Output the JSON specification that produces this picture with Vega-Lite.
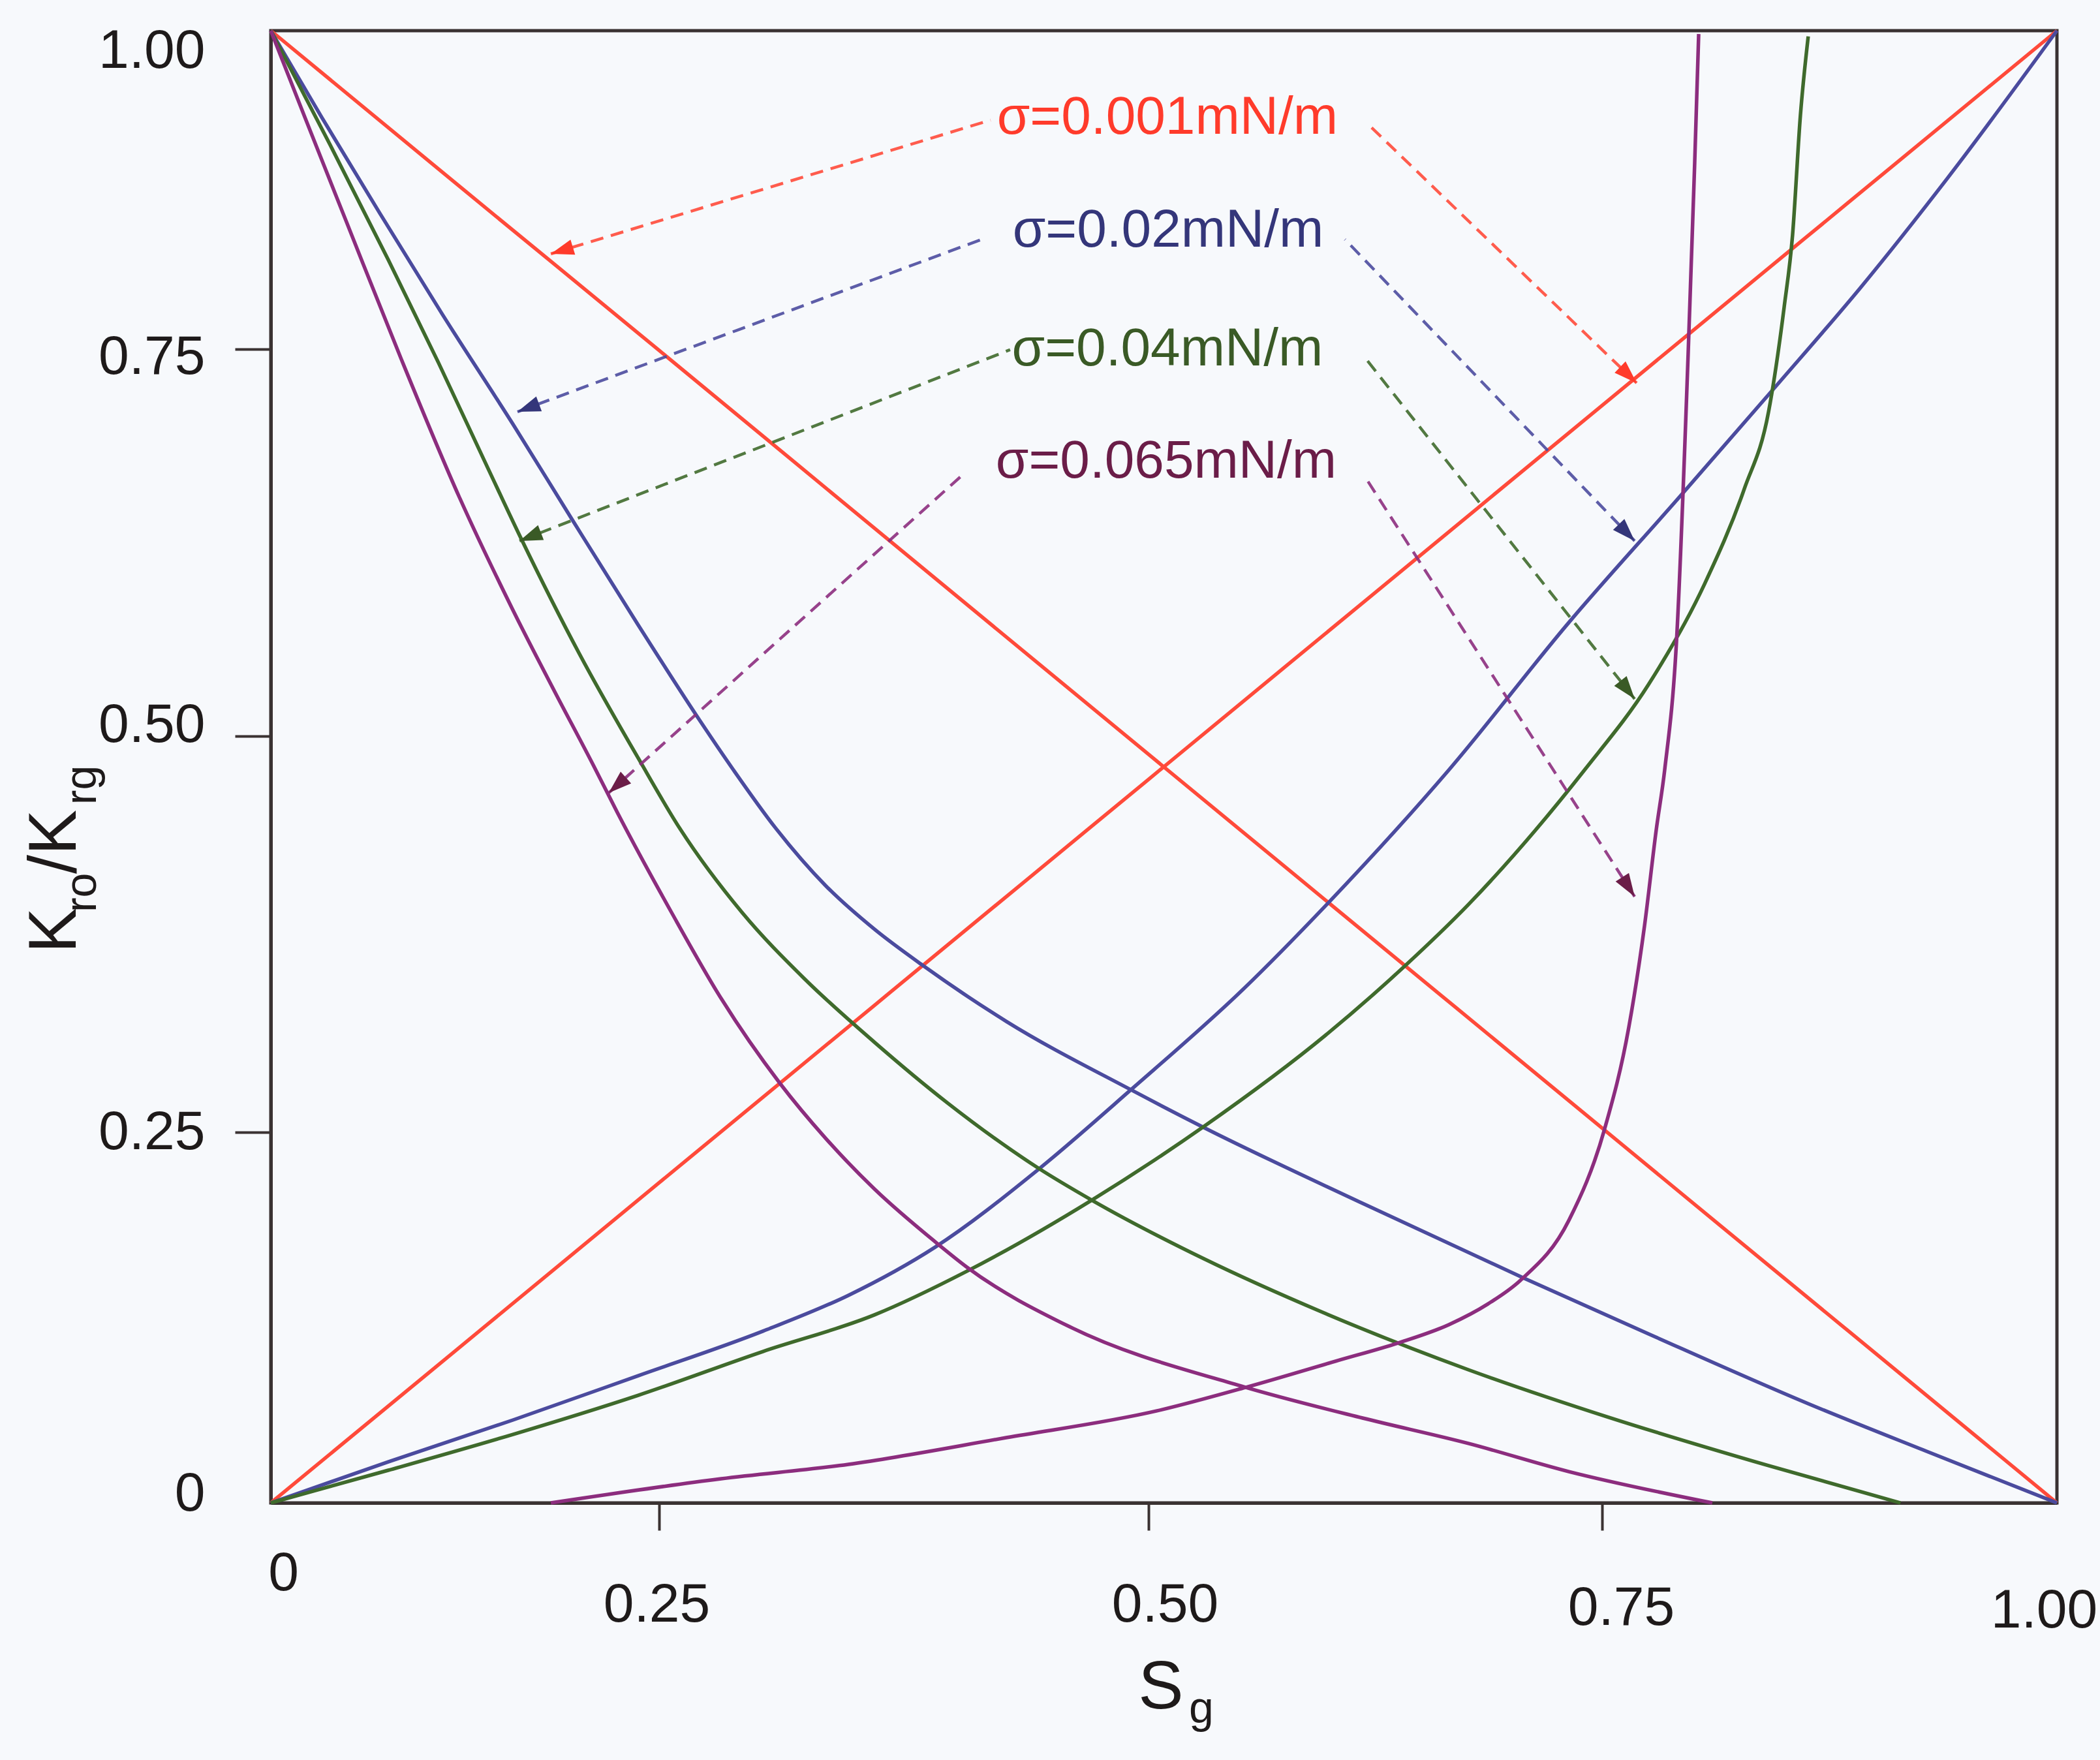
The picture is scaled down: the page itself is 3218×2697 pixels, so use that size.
{
  "$schema": "https://vega.github.io/schema/vega-lite/v6.json",
  "width": 2737,
  "height": 2256,
  "autosize": {"type": "none"},
  "padding": {"left": 415, "top": 47, "right": 66, "bottom": 394},
  "background": "#f7f9fc",
  "config": {"view": {"stroke": "#3a3232", "strokeWidth": 5}, "font": "Liberation Sans"},
  "datasets": {
    "curves": [
      {"s":"0.001","k":"Kro","x":0,"y":1},{"s":"0.001","k":"Kro","x":0.1185,"y":0.8808},{"s":"0.001","k":"Kro","x":0.25,"y":0.7492},{"s":"0.001","k":"Kro","x":0.36,"y":0.6343},{"s":"0.001","k":"Kro","x":0.5,"y":0.4885},{"s":"0.001","k":"Kro","x":0.6223,"y":0.3731},{"s":"0.001","k":"Kro","x":0.75,"y":0.2526},{"s":"0.001","k":"Kro","x":0.8852,"y":0.1161},{"s":"0.001","k":"Kro","x":1,"y":0},
      {"s":"0.001","k":"Krg","x":0,"y":0},{"s":"0.001","k":"Krg","x":0.1185,"y":0.1023},{"s":"0.001","k":"Krg","x":0.25,"y":0.2159},{"s":"0.001","k":"Krg","x":0.36,"y":0.3301},{"s":"0.001","k":"Krg","x":0.5,"y":0.4727},{"s":"0.001","k":"Krg","x":0.6223,"y":0.5902},{"s":"0.001","k":"Krg","x":0.75,"y":0.7136},{"s":"0.001","k":"Krg","x":0.8852,"y":0.8649},{"s":"0.001","k":"Krg","x":1,"y":1},
      {"s":"0.02","k":"Kro","x":0,"y":1},{"s":"0.02","k":"Kro","x":0.0328,"y":0.9319},{"s":"0.02","k":"Kro","x":0.0702,"y":0.8566},{"s":"0.02","k":"Kro","x":0.1105,"y":0.7772},{"s":"0.02","k":"Kro","x":0.1559,"y":0.7015},{"s":"0.02","k":"Kro","x":0.1937,"y":0.6404},{"s":"0.02","k":"Kro","x":0.2366,"y":0.5717},{"s":"0.02","k":"Kro","x":0.271,"y":0.5097},{"s":"0.02","k":"Kro","x":0.288,"y":0.4786},{"s":"0.02","k":"Kro","x":0.3093,"y":0.4423},{"s":"0.02","k":"Kro","x":0.335,"y":0.4057},{"s":"0.02","k":"Kro","x":0.36,"y":0.3781},{"s":"0.02","k":"Kro","x":0.385,"y":0.355},{"s":"0.02","k":"Kro","x":0.4273,"y":0.32},{"s":"0.02","k":"Kro","x":0.491,"y":0.2768},{"s":"0.02","k":"Kro","x":0.5306,"y":0.2529},{"s":"0.02","k":"Kro","x":0.618,"y":0.202},{"s":"0.02","k":"Kro","x":0.7072,"y":0.1514},{"s":"0.02","k":"Kro","x":0.7755,"y":0.114},{"s":"0.02","k":"Kro","x":0.8633,"y":0.0669},{"s":"0.02","k":"Kro","x":0.9293,"y":0.0343},{"s":"0.02","k":"Kro","x":1,"y":0},
      {"s":"0.02","k":"Krg","x":0,"y":0},{"s":"0.02","k":"Krg","x":0.0756,"y":0.0277},{"s":"0.02","k":"Krg","x":0.1559,"y":0.0559},{"s":"0.02","k":"Krg","x":0.2366,"y":0.0858},{"s":"0.02","k":"Krg","x":0.303,"y":0.1158},{"s":"0.02","k":"Krg","x":0.3467,"y":0.14},{"s":"0.02","k":"Krg","x":0.391,"y":0.1725},{"s":"0.02","k":"Krg","x":0.4437,"y":0.2249},{"s":"0.02","k":"Krg","x":0.491,"y":0.2768},{"s":"0.02","k":"Krg","x":0.5525,"y":0.3406},{"s":"0.02","k":"Krg","x":0.5982,"y":0.3937},{"s":"0.02","k":"Krg","x":0.6655,"y":0.4786},{"s":"0.02","k":"Krg","x":0.7317,"y":0.5734},{"s":"0.02","k":"Krg","x":0.793,"y":0.6551},{"s":"0.02","k":"Krg","x":0.8458,"y":0.7264},{"s":"0.02","k":"Krg","x":0.892,"y":0.7982},{"s":"0.02","k":"Krg","x":0.9401,"y":0.8847},{"s":"0.02","k":"Krg","x":1,"y":1},
      {"s":"0.04","k":"Kro","x":0,"y":1},{"s":"0.04","k":"Kro","x":0.0382,"y":0.9103},{"s":"0.04","k":"Kro","x":0.0756,"y":0.8202},{"s":"0.04","k":"Kro","x":0.108,"y":0.7411},{"s":"0.04","k":"Kro","x":0.1399,"y":0.6728},{"s":"0.04","k":"Kro","x":0.1613,"y":0.6273},{"s":"0.04","k":"Kro","x":0.1987,"y":0.5531},{"s":"0.04","k":"Kro","x":0.2366,"y":0.486},{"s":"0.04","k":"Kro","x":0.2607,"y":0.4415},{"s":"0.04","k":"Kro","x":0.2923,"y":0.3888},{"s":"0.04","k":"Kro","x":0.3243,"y":0.3468},{"s":"0.04","k":"Kro","x":0.36,"y":0.3068},{"s":"0.04","k":"Kro","x":0.3973,"y":0.2685},{"s":"0.04","k":"Kro","x":0.4437,"y":0.2258},{"s":"0.04","k":"Kro","x":0.471,"y":0.2042},{"s":"0.04","k":"Kro","x":0.5306,"y":0.1646},{"s":"0.04","k":"Kro","x":0.596,"y":0.1285},{"s":"0.04","k":"Kro","x":0.6763,"y":0.0898},{"s":"0.04","k":"Kro","x":0.7536,"y":0.0577},{"s":"0.04","k":"Kro","x":0.8415,"y":0.0251},{"s":"0.04","k":"Kro","x":0.914,"y":0},
      {"s":"0.04","k":"Krg","x":0,"y":0},{"s":"0.04","k":"Krg","x":0.0756,"y":0.022},{"s":"0.04","k":"Krg","x":0.1559,"y":0.0462},{"s":"0.04","k":"Krg","x":0.2366,"y":0.0726},{"s":"0.04","k":"Krg","x":0.303,"y":0.1021},{"s":"0.04","k":"Krg","x":0.36,"y":0.1268},{"s":"0.04","k":"Krg","x":0.4073,"y":0.1563},{"s":"0.04","k":"Krg","x":0.471,"y":0.2042},{"s":"0.04","k":"Krg","x":0.5306,"y":0.2537},{"s":"0.04","k":"Krg","x":0.5982,"y":0.3118},{"s":"0.04","k":"Krg","x":0.6406,"y":0.3542},{"s":"0.04","k":"Krg","x":0.6763,"y":0.3937},{"s":"0.04","k":"Krg","x":0.7403,"y":0.4786},{"s":"0.04","k":"Krg","x":0.7755,"y":0.5333},{"s":"0.04","k":"Krg","x":0.8063,"y":0.5982},{"s":"0.04","k":"Krg","x":0.8282,"y":0.6598},{"s":"0.04","k":"Krg","x":0.8415,"y":0.7095},{"s":"0.04","k":"Krg","x":0.8501,"y":0.7833},{"s":"0.04","k":"Krg","x":0.8547,"y":0.8397},{"s":"0.04","k":"Krg","x":0.859,"y":0.9334},{"s":"0.04","k":"Krg","x":0.8633,"y":0.9955},
      {"s":"0.065","k":"Kro","x":0,"y":1},{"s":"0.065","k":"Kro","x":0.0223,"y":0.9308},{"s":"0.065","k":"Kro","x":0.0487,"y":0.8499},{"s":"0.065","k":"Kro","x":0.0836,"y":0.7445},{"s":"0.065","k":"Kro","x":0.1214,"y":0.6543},{"s":"0.065","k":"Kro","x":0.1559,"y":0.5814},{"s":"0.065","k":"Kro","x":0.1828,"y":0.5287},{"s":"0.065","k":"Kro","x":0.2071,"y":0.4827},{"s":"0.065","k":"Kro","x":0.2231,"y":0.4518},{"s":"0.065","k":"Kro","x":0.2563,"y":0.3888},{"s":"0.065","k":"Kro","x":0.2817,"y":0.3344},{"s":"0.065","k":"Kro","x":0.3117,"y":0.2809},{"s":"0.065","k":"Kro","x":0.335,"y":0.246},{"s":"0.065","k":"Kro","x":0.36,"y":0.2117},{"s":"0.065","k":"Kro","x":0.391,"y":0.1761},{"s":"0.065","k":"Kro","x":0.4073,"y":0.1589},{"s":"0.065","k":"Kro","x":0.4597,"y":0.1188},{"s":"0.065","k":"Kro","x":0.5525,"y":0.0783},{"s":"0.065","k":"Kro","x":0.618,"y":0.0572},{"s":"0.065","k":"Kro","x":0.6763,"y":0.0401},{"s":"0.065","k":"Kro","x":0.7317,"y":0.0211},{"s":"0.065","k":"Kro","x":0.8106,"y":0},
      {"s":"0.065","k":"Krg","x":0.1803,"y":0},{"s":"0.065","k":"Krg","x":0.2817,"y":0.0163},{"s":"0.065","k":"Krg","x":0.3467,"y":0.026},{"s":"0.065","k":"Krg","x":0.4273,"y":0.044},{"s":"0.065","k":"Krg","x":0.5047,"y":0.0621},{"s":"0.065","k":"Krg","x":0.5547,"y":0.0783},{"s":"0.065","k":"Krg","x":0.6043,"y":0.096},{"s":"0.065","k":"Krg","x":0.6374,"y":0.1078},{"s":"0.065","k":"Krg","x":0.6655,"y":0.1202},{"s":"0.065","k":"Krg","x":0.6871,"y":0.1342},{"s":"0.065","k":"Krg","x":0.705,"y":0.1501},{"s":"0.065","k":"Krg","x":0.7317,"y":0.1906},{"s":"0.065","k":"Krg","x":0.7514,"y":0.2521},{"s":"0.065","k":"Krg","x":0.7647,"y":0.3163},{"s":"0.065","k":"Krg","x":0.7733,"y":0.3801},{"s":"0.065","k":"Krg","x":0.7798,"y":0.4411},{"s":"0.065","k":"Krg","x":0.7844,"y":0.4786},{"s":"0.065","k":"Krg","x":0.7909,"y":0.5611},{"s":"0.065","k":"Krg","x":0.7973,"y":0.7466},{"s":"0.065","k":"Krg","x":0.8009,"y":0.896},{"s":"0.065","k":"Krg","x":0.8031,"y":0.9974}
    ],
    "arrows": [
      {"s":"0.001","side":"L","xs":0.4193,"ys":0.9298,"x":0.1803,"y":0.8248},
      {"s":"0.001","side":"R","xs":0.6201,"ys":0.9278,"x":0.769,"y":0.7281},
      {"s":"0.02","side":"L","xs":0.4173,"ys":0.8376,"x":0.1588,"y":0.7095},
      {"s":"0.02","side":"R","xs":0.6083,"ys":0.8361,"x":0.7679,"y":0.6261},
      {"s":"0.04","side":"L","xs":0.4293,"ys":0.7496,"x":0.1601,"y":0.6261},
      {"s":"0.04","side":"R","xs":0.6201,"ys":0.7433,"x":0.7679,"y":0.524},
      {"s":"0.065","side":"L","xs":0.4053,"ys":0.6691,"x":0.2176,"y":0.4642},
      {"s":"0.065","side":"R","xs":0.6201,"ys":0.6661,"x":0.7679,"y":0.3987}
    ],
    "labels": [
      {"s":"0.001","t":"σ=0.001mN/m","x":0.5104,"y":0.9319},
      {"s":"0.02","t":"σ=0.02mN/m","x":0.5108,"y":0.8432},
      {"s":"0.04","t":"σ=0.04mN/m","x":0.5104,"y":0.75},
      {"s":"0.065","t":"σ=0.065mN/m","x":0.5097,"y":0.6775}
    ],
    "ytitleBig": [{"t":"K","x":-0.1256,"y":0.3773},{"t":"/K","x":-0.1256,"y":0.4333}],
    "ytitleSub": [{"t":"ro","x":-0.1126,"y":0.4012},{"t":"rg","x":-0.1126,"y":0.4691}],
    "xtitleBig": [{"t":"S","x":0.5068,"y":-0.1386}],
    "xtitleSub": [{"t":"g","x":0.5223,"y":-0.1483}]
  },
  "encoding": {
    "x": {"field": "x", "type": "quantitative",
      "scale": {"domain": [0, 0.25, 0.5, 0.75, 1], "range": [0, 595, 1345, 2040, 2737], "nice": false, "zero": false},
      "axis": {"values": [0, 0.25, 0.5, 0.75, 1], "title": null, "grid": false,
        "labelExpr": "datum.value == 0 ? '0' : format(datum.value, '.2f')",
        "labelFont": "Liberation Sans", "labelFontSize": 84, "labelColor": "#1e1a1a",
        "labelBaseline": "top", "labelAlign": "center", "labelFlush": false, "labelOverlap": false, "labelBound": false,
        "labelPadding": {"condition": [{"test": "datum.value == 0", "value": 25}, {"test": "datum.value == 0.75", "value": 78}, {"test": "datum.value == 1", "value": 82}], "value": 73},
        "labelOffset": {"condition": [{"test": "datum.value == 0", "value": 19}, {"test": "datum.value == 0.25", "value": -4}, {"test": "datum.value == 0.5", "value": 25}, {"test": "datum.value == 0.75", "value": 29}, {"test": "datum.value == 1", "value": -20}], "value": 0},
        "tickSize": 42, "tickWidth": 4, "tickColor": "#3a3232",
        "tickOpacity": {"condition": {"test": "datum.value == 0 || datum.value == 1", "value": 0}, "value": 1},
        "domainColor": "#3a3232", "domainWidth": 5}},
    "y": {"field": "y", "type": "quantitative",
      "scale": {"domain": [0, 0.25, 0.5, 0.75, 1], "range": [2256, 1688, 1081, 488, 0], "nice": false, "zero": false},
      "axis": {"values": [0, 0.25, 0.5, 0.75, 1], "title": null, "grid": false,
        "labelExpr": "datum.value == 0 ? '0' : format(datum.value, '.2f')",
        "labelFont": "Liberation Sans", "labelFontSize": 84, "labelColor": "#1e1a1a",
        "labelAlign": "right", "labelBaseline": "middle", "labelFlush": false, "labelOverlap": false, "labelBound": false,
        "labelPadding": 46,
        "labelOffset": {"condition": [{"test": "datum.value == 1", "value": 31}, {"test": "datum.value == 0.75", "value": 12}, {"test": "datum.value == 0.5", "value": -17}, {"test": "datum.value == 0", "value": -14}], "value": 0},
        "tickSize": 55, "tickWidth": 4, "tickColor": "#3a3232",
        "tickOpacity": {"condition": {"test": "datum.value == 0 || datum.value == 1", "value": 0}, "value": 1},
        "domainColor": "#3a3232", "domainWidth": 5}}
  },
  "layer": [
    {"data": {"name": "curves"},
     "mark": {"type": "line", "strokeWidth": 5.5, "interpolate": "monotone"},
     "encoding": {
       "stroke": {"field": "s", "type": "nominal", "scale": {"domain": ["0.001","0.02","0.04","0.065"], "range": ["#ff4a3a","#4b4b9e","#3f6a2c","#8c2d7e"]}, "legend": null},
       "detail": {"field": "k"}}},
    {"data": {"name": "arrows"},
     "mark": {"type": "rule", "strokeWidth": 4.5, "strokeDash": [20, 12], "opacity": 0.9},
     "encoding": {
       "x2": {"field": "xs"}, "y2": {"field": "ys"},
       "stroke": {"field": "s", "type": "nominal", "scale": {"domain": ["0.001","0.02","0.04","0.065"], "range": ["#ff4a3a","#4b4b9e","#3f6a2c","#8c2d7e"]}, "legend": null}}},
    {"data": {"name": "arrows"}, "transform": [{"filter": "datum.s == '0.001' && datum.side == 'L'"}],
     "mark": {"type": "point", "shape": "M0,0L0.55,1.6L-0.55,1.6Z", "filled": true, "size": 1936, "angle": 253.1, "opacity": 1, "strokeWidth": 0},
     "encoding": {"fill": {"field": "s", "type": "nominal", "scale": {"domain": ["0.001","0.02","0.04","0.065"], "range": ["#ff3b2b","#34367a","#3a5a26","#6b1d48"]}, "legend": null}}},
    {"data": {"name": "arrows"}, "transform": [{"filter": "datum.s == '0.001' && datum.side == 'R'"}],
     "mark": {"type": "point", "shape": "M0,0L0.55,1.6L-0.55,1.6Z", "filled": true, "size": 1936, "angle": 133.9, "opacity": 1, "strokeWidth": 0},
     "encoding": {"fill": {"field": "s", "type": "nominal", "scale": {"domain": ["0.001","0.02","0.04","0.065"], "range": ["#ff3b2b","#34367a","#3a5a26","#6b1d48"]}, "legend": null}}},
    {"data": {"name": "arrows"}, "transform": [{"filter": "datum.s == '0.02' && datum.side == 'L'"}],
     "mark": {"type": "point", "shape": "M0,0L0.55,1.6L-0.55,1.6Z", "filled": true, "size": 1936, "angle": 249.6, "opacity": 1, "strokeWidth": 0},
     "encoding": {"fill": {"field": "s", "type": "nominal", "scale": {"domain": ["0.001","0.02","0.04","0.065"], "range": ["#ff3b2b","#34367a","#3a5a26","#6b1d48"]}, "legend": null}}},
    {"data": {"name": "arrows"}, "transform": [{"filter": "datum.s == '0.02' && datum.side == 'R'"}],
     "mark": {"type": "point", "shape": "M0,0L0.55,1.6L-0.55,1.6Z", "filled": true, "size": 1936, "angle": 136.1, "opacity": 1, "strokeWidth": 0},
     "encoding": {"fill": {"field": "s", "type": "nominal", "scale": {"domain": ["0.001","0.02","0.04","0.065"], "range": ["#ff3b2b","#34367a","#3a5a26","#6b1d48"]}, "legend": null}}},
    {"data": {"name": "arrows"}, "transform": [{"filter": "datum.s == '0.04' && datum.side == 'L'"}],
     "mark": {"type": "point", "shape": "M0,0L0.55,1.6L-0.55,1.6Z", "filled": true, "size": 1936, "angle": 248.7, "opacity": 1, "strokeWidth": 0},
     "encoding": {"fill": {"field": "s", "type": "nominal", "scale": {"domain": ["0.001","0.02","0.04","0.065"], "range": ["#ff3b2b","#34367a","#3a5a26","#6b1d48"]}, "legend": null}}},
    {"data": {"name": "arrows"}, "transform": [{"filter": "datum.s == '0.04' && datum.side == 'R'"}],
     "mark": {"type": "point", "shape": "M0,0L0.55,1.6L-0.55,1.6Z", "filled": true, "size": 1936, "angle": 141.7, "opacity": 1, "strokeWidth": 0},
     "encoding": {"fill": {"field": "s", "type": "nominal", "scale": {"domain": ["0.001","0.02","0.04","0.065"], "range": ["#ff3b2b","#34367a","#3a5a26","#6b1d48"]}, "legend": null}}},
    {"data": {"name": "arrows"}, "transform": [{"filter": "datum.s == '0.065' && datum.side == 'L'"}],
     "mark": {"type": "point", "shape": "M0,0L0.55,1.6L-0.55,1.6Z", "filled": true, "size": 1936, "angle": 228.1, "opacity": 1, "strokeWidth": 0},
     "encoding": {"fill": {"field": "s", "type": "nominal", "scale": {"domain": ["0.001","0.02","0.04","0.065"], "range": ["#ff3b2b","#34367a","#3a5a26","#6b1d48"]}, "legend": null}}},
    {"data": {"name": "arrows"}, "transform": [{"filter": "datum.s == '0.065' && datum.side == 'R'"}],
     "mark": {"type": "point", "shape": "M0,0L0.55,1.6L-0.55,1.6Z", "filled": true, "size": 1936, "angle": 147.3, "opacity": 1, "strokeWidth": 0},
     "encoding": {"fill": {"field": "s", "type": "nominal", "scale": {"domain": ["0.001","0.02","0.04","0.065"], "range": ["#ff3b2b","#34367a","#3a5a26","#6b1d48"]}, "legend": null}}},
    {"data": {"name": "labels"},
     "mark": {"type": "text", "font": "Liberation Sans", "fontSize": 82, "align": "center", "baseline": "middle"},
     "encoding": {"text": {"field": "t"},
       "fill": {"field": "s", "type": "nominal", "scale": {"domain": ["0.001","0.02","0.04","0.065"], "range": ["#ff3b2b","#34367a","#3a5a26","#6b1d48"]}, "legend": null}}},
    {"data": {"name": "ytitleBig"},
     "mark": {"type": "text", "font": "Liberation Sans", "fontSize": 104, "align": "center", "baseline": "alphabetic", "angle": 270, "color": "#1e1a1a"},
     "encoding": {"text": {"field": "t"}}},
    {"data": {"name": "ytitleSub"},
     "mark": {"type": "text", "font": "Liberation Sans", "fontSize": 68, "align": "center", "baseline": "alphabetic", "angle": 270, "color": "#1e1a1a"},
     "encoding": {"text": {"field": "t"}}},
    {"data": {"name": "xtitleBig"},
     "mark": {"type": "text", "font": "Liberation Sans", "fontSize": 104, "align": "center", "baseline": "alphabetic", "color": "#1e1a1a"},
     "encoding": {"text": {"field": "t"}}},
    {"data": {"name": "xtitleSub"},
     "mark": {"type": "text", "font": "Liberation Sans", "fontSize": 68, "align": "left", "baseline": "alphabetic", "color": "#1e1a1a"},
     "encoding": {"text": {"field": "t"}}}
  ]
}
